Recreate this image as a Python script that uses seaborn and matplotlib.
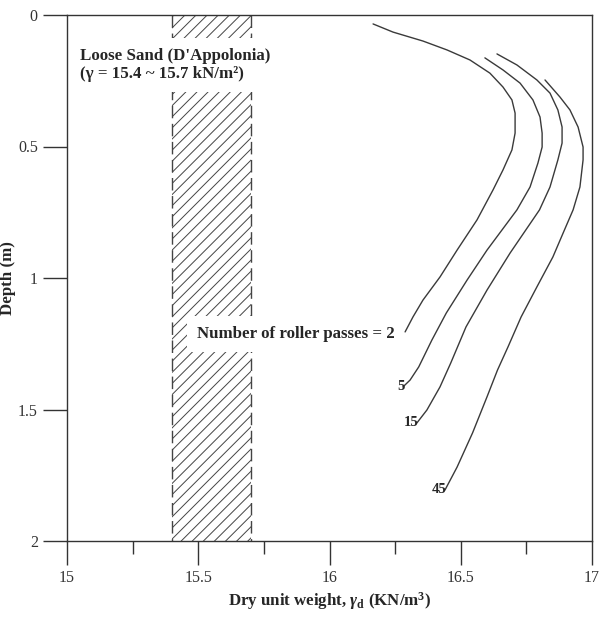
import numpy as np
import pandas as pd
import matplotlib
matplotlib.use("Agg")
import matplotlib.pyplot as plt
import seaborn as sns

# ---------------- data ----------------
passes_labels = ["2", "5", "15", "45"]

gamma_2 = [16.166, 16.242, 16.356, 16.448, 16.535, 16.611, 16.661, 16.695, 16.707, 16.707,
           16.695, 16.661, 16.623, 16.562, 16.486, 16.421, 16.356, 16.318, 16.288]
depth_2 = [0.034, 0.065, 0.099, 0.133, 0.171, 0.221, 0.274, 0.323, 0.373, 0.449,
           0.513, 0.589, 0.665, 0.779, 0.894, 0.996, 1.084, 1.148, 1.205]

gamma_5 = [16.592, 16.661, 16.726, 16.775, 16.802, 16.810, 16.810, 16.794, 16.764,
           16.714, 16.600, 16.524, 16.445, 16.390, 16.340, 16.307, 16.280]
depth_5 = [0.163, 0.209, 0.259, 0.323, 0.388, 0.449, 0.502, 0.563, 0.654,
           0.741, 0.894, 1.008, 1.133, 1.236, 1.338, 1.388, 1.414]

gamma_15 = [16.638, 16.714, 16.790, 16.840, 16.870, 16.886, 16.886, 16.870, 16.840,
            16.800, 16.688, 16.600, 16.520, 16.462, 16.421, 16.371, 16.333]
depth_15 = [0.148, 0.190, 0.247, 0.297, 0.361, 0.426, 0.487, 0.551, 0.654,
            0.741, 0.905, 1.046, 1.186, 1.323, 1.414, 1.502, 1.551]

gamma_45 = [16.821, 16.878, 16.916, 16.947, 16.966, 16.966, 16.954, 16.928, 16.890, 16.851,
            16.790, 16.730, 16.680, 16.640, 16.600, 16.545, 16.486, 16.440]
depth_45 = [0.247, 0.312, 0.361, 0.426, 0.502, 0.551, 0.654, 0.741, 0.829, 0.920,
            1.034, 1.148, 1.262, 1.350, 1.452, 1.589, 1.719, 1.806]

band_low, band_high = 15.4, 15.7

x_ticks = [15, 15.5, 16, 16.5, 17]
x_tick_labels = ["15", "15.5", "16", "16.5", "17"]
x_minor = [15.25, 15.75, 16.25, 16.75]
y_ticks = [0, 0.5, 1, 1.5, 2]
y_tick_labels = ["0", "0.5", "1", "1.5", "2"]

# ---------------- frame ----------------
rows = []
for lab, g, d in [("2", gamma_2, depth_2), ("5", gamma_5, depth_5),
                  ("15", gamma_15, depth_15), ("45", gamma_45, depth_45)]:
    for i, (gi, di) in enumerate(zip(g, d)):
        rows.append({"passes": lab, "gamma": gi, "depth": di, "order": i})
df = pd.DataFrame(rows)

sns.set_style("ticks")
plt.rcParams["font.family"] = ["Liberation Serif", "DejaVu Serif"]
plt.rcParams["mathtext.fontset"] = "custom"
plt.rcParams["mathtext.rm"] = "Liberation Serif:bold"
plt.rcParams["mathtext.it"] = "Liberation Serif:italic:bold"
plt.rcParams["mathtext.bf"] = "Liberation Serif:bold"
plt.rcParams["hatch.linewidth"] = 0.7

fig = plt.figure(figsize=(6, 6.18), dpi=100)
fig.patch.set_facecolor("white")
ax = fig.add_axes([67/600, 1 - 541/618, (592 - 67)/600, (541 - 15)/618])

# hatched band
ax.axvspan(band_low, band_high, facecolor="none", edgecolor="#444444",
           hatch="///", linewidth=0, zorder=1)
ax.vlines([band_low, band_high], 0, 2, colors="#444444", linewidth=1.0,
          linestyles=(0, (9, 4)), zorder=1)

# curves
sns.lineplot(data=df, x="gamma", y="depth", units="passes", estimator=None,
             sort=False, color="#3a3a3a", linewidth=1.0, legend=False, ax=ax,
             zorder=5)

ax.set_xlim(15, 17)
ax.set_ylim(2, 0)

ax.set_xticks(x_ticks)
ax.set_xticklabels(x_tick_labels)
ax.set_xticks(x_minor, minor=True)
ax.set_yticks(y_ticks)
ax.set_yticklabels(y_tick_labels)
ax.tick_params(axis="both", which="major", direction="out", length=17, width=1,
               color="#333333", labelsize=11.5, labelcolor="#333333", pad=4)
ax.tick_params(axis="x", which="minor", direction="out", length=9, width=1,
               color="#333333")
for s in ax.spines.values():
    s.set_color("#333333")
    s.set_linewidth(1.0)
    s.set_visible(True)

ax.set_xlabel(r"Dry unit weight, $\gamma_{\mathrm{d}}$ (KN/m$^{3}$)",
              fontsize=12.2, fontweight="bold", labelpad=3)
ax.set_ylabel("Depth (m)", fontsize=12.2, fontweight="bold")
ax.yaxis.set_label_coords((16 - 67) / 525, 0.5)

bbox = dict(boxstyle="square,pad=0.6", facecolor="white", edgecolor="none")
ax.text(15.05, 0.19, "Loose Sand (D'Appolonia)\n(γ = 15.4 ~ 15.7 kN/m²)",
        fontsize=12.2, fontweight="bold", ha="left", va="center",
        linespacing=1.2, bbox=bbox, zorder=3)
ax.text(15.495, 1.212, "Number of roller passes = 2", fontsize=12.2,
        fontweight="bold", ha="left", va="center", bbox=bbox, zorder=3)

# curve end labels
for lab, g, d in [("5", gamma_5, depth_5), ("15", gamma_15, depth_15),
                  ("45", gamma_45, depth_45)]:
    ax.annotate(lab, xy=(g[-1], d[-1]), xytext=(1, 0), textcoords="offset points",
                ha="right", va="center", fontsize=10.5, fontweight="bold",
                zorder=6)

fig.savefig("out.png", dpi=100, facecolor="white")
